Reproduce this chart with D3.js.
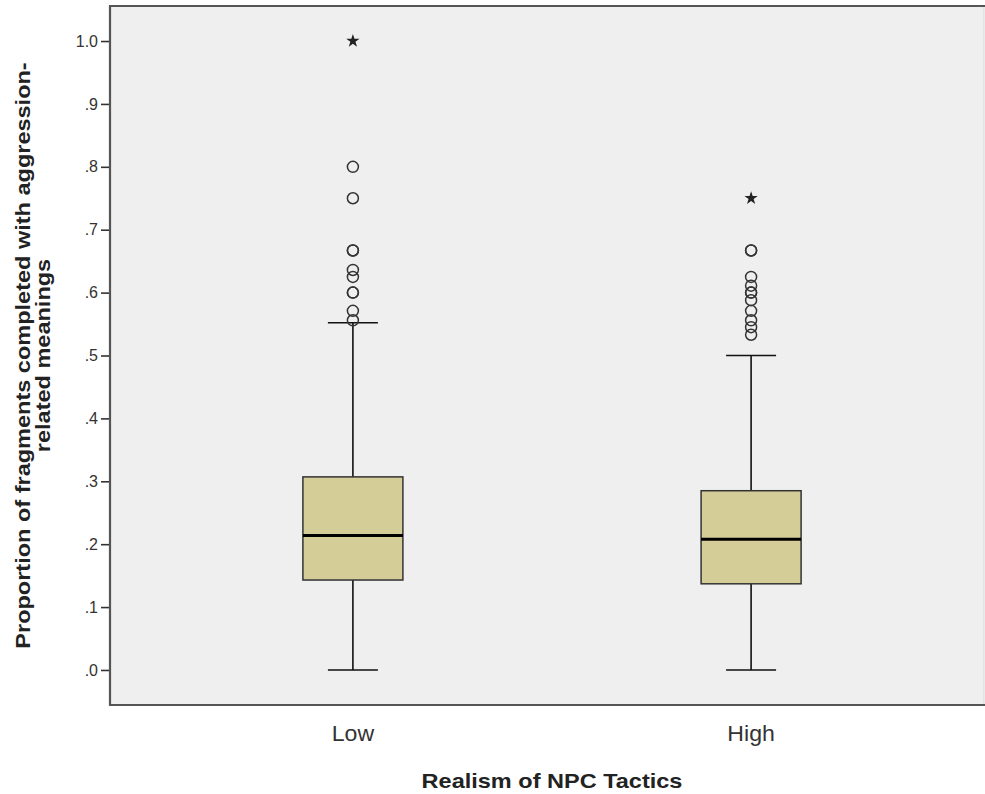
<!DOCTYPE html>
<html>
<head>
<meta charset="utf-8">
<script src="https://cdn.jsdelivr.net/npm/d3@7"></script>
<style>
  body { margin: 0; background: #fff; }
  text { font-family: Arial, "Liberation Sans", sans-serif; }
</style>
</head>
<body>
<div id="chart"></div>
<script>
// groups and box statistics
const groups = ["Low", "High"];
const q1 = [0.143, 0.137];
const medians = [0.214, 0.208];
const q3 = [0.307, 0.285];
const whiskerLow = [0.0, 0.0];
const whiskerHigh = [0.552, 0.5];
const outliersLow = [0.8, 0.75, 0.667, 0.667, 0.636, 0.625, 0.6, 0.6, 0.571, 0.556];
const outliersHigh = [0.667, 0.667, 0.625, 0.611, 0.6, 0.6, 0.588, 0.571, 0.556, 0.545, 0.533];
const extremesLow = [1.0];
const extremesHigh = [0.75];
const yTicks = [0, 0.1, 0.2, 0.3, 0.4, 0.5, 0.6, 0.7, 0.8, 0.9, 1.0];

const W = 985, H = 794;
const plot = {left: 110, right: 984, top: 6, bottom: 705};

const svg = d3.select("#chart").append("svg")
    .attr("width", W)
    .attr("height", H);

// background of plot area
svg.append("rect")
    .attr("x", plot.left).attr("y", plot.top)
    .attr("width", plot.right - plot.left)
    .attr("height", plot.bottom - plot.top)
    .attr("fill", "#efefef")
    .attr("stroke", "#d6d6d6")
    .attr("stroke-width", 1);

// frame: left, top, bottom dark
svg.append("path")
    .attr("d", `M${plot.right + 2},${plot.top} H${plot.left} V${plot.bottom} H${plot.right + 2}`)
    .attr("fill", "none")
    .attr("stroke", "#555")
    .attr("stroke-width", 2.2);

const y = d3.scaleLinear()
    .domain([-0.0557, 1.0557])
    .range([plot.bottom, plot.top]);

// category centres (the frame is clipped at the right edge of the image)
const x = d3.scalePoint()
    .domain(groups)
    .range([plot.left, plot.right + 10])
    .padding(0.61);

const boxW = 100;

// y axis
const yAxis = d3.axisLeft(y)
    .tickValues(yTicks)
    .tickSize(8)
    .tickPadding(3)
    .tickFormat(d => d === 1 ? "1.0" : d3.format(".1f")(d).replace(/^0/, ""));

const gy = svg.append("g")
    .attr("transform", `translate(${plot.left - 1},0)`)
    .call(yAxis);
gy.select(".domain").remove();
gy.selectAll("line").attr("stroke", "#333").attr("stroke-width", 1.6);
gy.selectAll("text").attr("font-size", 16).attr("fill", "#333");

// x axis labels
const gx = svg.append("g")
    .attr("transform", `translate(0,${plot.bottom})`)
    .call(d3.axisBottom(x).tickSize(0).tickPadding(20));
gx.select(".domain").remove();
gx.selectAll("text").attr("font-size", 22).attr("fill", "#333")
    .attr("transform", "scale(1.05,1)")
    .attr("x", 0);
gx.selectAll(".tick").each(function(d) {
    d3.select(this).attr("transform", `translate(${x(d)},0)`);
});

const boxes = groups.map((g, i) => ({
    g, q1: q1[i], med: medians[i], q3: q3[i],
    lo: whiskerLow[i], hi: whiskerHigh[i],
    out: [outliersLow, outliersHigh][i],
    ext: [extremesLow, extremesHigh][i]
}));

const cap = 50;

boxes.forEach(b => {
    const cx = x(b.g);
    const gBox = svg.append("g");

    // whiskers
    gBox.append("line")
        .attr("x1", cx).attr("x2", cx)
        .attr("y1", y(b.hi)).attr("y2", y(b.q3))
        .attr("stroke", "#111").attr("stroke-width", 1.6);
    gBox.append("line")
        .attr("x1", cx).attr("x2", cx)
        .attr("y1", y(b.q1)).attr("y2", y(b.lo))
        .attr("stroke", "#111").attr("stroke-width", 1.6);
    [b.hi, b.lo].forEach(v => {
        gBox.append("line")
            .attr("x1", cx - cap / 2).attr("x2", cx + cap / 2)
            .attr("y1", y(v)).attr("y2", y(v))
            .attr("stroke", "#111").attr("stroke-width", 1.6);
    });

    // box
    gBox.append("rect")
        .attr("x", cx - boxW / 2)
        .attr("y", y(b.q3))
        .attr("width", boxW)
        .attr("height", y(b.q1) - y(b.q3))
        .attr("fill", "#d4cd98")
        .attr("stroke", "#333")
        .attr("stroke-width", 1.5);

    // median
    gBox.append("line")
        .attr("x1", cx - boxW / 2).attr("x2", cx + boxW / 2)
        .attr("y1", y(b.med)).attr("y2", y(b.med))
        .attr("stroke", "#000").attr("stroke-width", 3);

    // outliers
    gBox.selectAll("circle.out")
        .data(b.out)
        .enter().append("circle")
        .attr("class", "out")
        .attr("cx", cx)
        .attr("cy", d => y(d))
        .attr("r", 5.5)
        .attr("fill", "none")
        .attr("stroke", "#333")
        .attr("stroke-width", 1.5);

    // extremes
    gBox.selectAll("path.ext")
        .data(b.ext)
        .enter().append("path")
        .attr("class", "ext")
        .attr("d", d3.symbol(d3.symbolStar, 55))
        .attr("transform", d => `translate(${cx},${y(d)})`)
        .attr("fill", "#222");
});

// axis titles
svg.append("text")
    .attr("x", 0)
    .attr("y", 0)
    .attr("transform", `translate(${(x("Low") + x("High")) / 2},788) scale(1.12,1)`)
    .attr("text-anchor", "middle")
    .attr("font-size", 21)
    .attr("font-weight", "bold")
    .attr("fill", "#222")
    .text("Realism of NPC Tactics");

const yTitle = svg.append("text")
    .attr("transform", `translate(30,${(plot.top + plot.bottom) / 2}) rotate(-90) scale(1.12,1)`)
    .attr("text-anchor", "middle")
    .attr("font-size", 21)
    .attr("font-weight", "bold")
    .attr("fill", "#222");
yTitle.append("tspan").attr("x", 0).attr("dy", 0)
    .text("Proportion of fragments completed with aggression-");
yTitle.append("tspan").attr("x", 0).attr("dy", 20)
    .text("related meanings");
</script>
</body>
</html>
